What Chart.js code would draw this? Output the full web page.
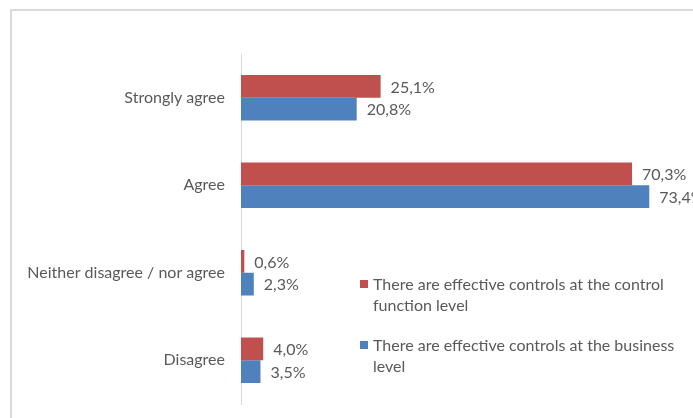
<!DOCTYPE html>
<html>
<head>
<meta charset="utf-8">
<script src="https://cdn.jsdelivr.net/npm/chart.js@4/dist/chart.umd.min.js"></script>
<style>
  html, body { margin: 0; padding: 0; background: #fff; }
  #frame {
    position: absolute; left: 10px; top: 9px; width: 700px; height: 420px;
    border-left: 2px solid #d9d9d9; border-top: 2px solid #d9d9d9;
  }
  #wrap { position: absolute; left: 0; top: 0; width: 693px; height: 418px; }
</style>
</head>
<body>
<div id="frame"></div>
<div id="wrap"><canvas id="c" width="693" height="418"></canvas></div>
<script>
// Survey answers and the share of respondents for each statement (%)
const categories = ['Strongly agree', 'Agree', 'Neither disagree / nor agree', 'Disagree'];
const controlFunction = [25.1, 70.3, 0.6, 4.0];
const businessLevel = [20.8, 73.4, 2.3, 3.5];
const seriesNames = [
  ['There are effective controls at the control', 'function level'],
  ['There are effective controls at the business', 'level']
];

const FONT = 'Lato, "Open Sans", sans-serif';
const FSIZE = 16;
const TEXT = '#595959';

function fmt(v) { return v.toFixed(1).replace('.', ',') + '%'; }

// Value labels to the right of each bar
const valueLabels = {
  id: 'valueLabels',
  afterDatasetsDraw(chart) {
    const ctx = chart.ctx;
    ctx.save();
    ctx.font = FSIZE + 'px ' + FONT;
    ctx.fillStyle = TEXT;
    ctx.textBaseline = 'middle';
    ctx.textAlign = 'left';
    chart.data.datasets.forEach((ds, i) => {
      chart.getDatasetMeta(i).data.forEach((bar, j) => {
        ctx.fillText(fmt(ds.data[j]), bar.x + 10, bar.y + 1);
      });
    });
    ctx.restore();
  }
};

// Legend box placed inside the plot area, lower right
const innerLegend = {
  id: 'innerLegend',
  afterDraw(chart) {
    const ctx = chart.ctx;
    const area = chart.chartArea;
    ctx.save();
    ctx.font = FSIZE + 'px ' + FONT;
    ctx.textBaseline = 'middle';
    ctx.textAlign = 'left';
    const x0 = area.left + 119;
    const tops = [area.top + 230, area.top + 291];
    chart.data.datasets.forEach((ds, i) => {
      const y = tops[i];
      ctx.fillStyle = ds.backgroundColor;
      ctx.fillRect(x0, y - 4, 8, 8);
      ctx.fillStyle = TEXT;
      seriesNames[i].forEach((line, k) => {
        ctx.fillText(line, x0 + 13, y + 1 + k * 21);
      });
    });
    ctx.restore();
  }
};

new Chart(document.getElementById('c'), {
  type: 'bar',
  data: {
    labels: categories,
    datasets: [
      { label: seriesNames[0].join(' '), data: controlFunction, backgroundColor: '#C0504D' },
      { label: seriesNames[1].join(' '), data: businessLevel, backgroundColor: '#4F81BD' }
    ]
  },
  options: {
    indexAxis: 'y',
    responsive: false,
    animation: false,
    layout: { padding: { top: 54, bottom: 14, left: 0, right: 7 } },
    datasets: { bar: { categoryPercentage: 0.52, barPercentage: 1.0 } },
    scales: {
      x: {
        min: 0, max: 80,
        display: false
      },
      y: {
        grid: { display: false, drawTicks: false },
        border: { display: true, color: '#d9d9d9', width: 1 },
        ticks: { color: TEXT, font: { family: FONT, size: FSIZE }, padding: 16 },
        afterFit(scale) {
          scale.width = 241;
          scale.paddingTop = 0;
          scale.paddingBottom = 0;
        }
      }
    },
    plugins: {
      legend: { display: false },
      tooltip: { enabled: false }
    }
  },
  plugins: [valueLabels, innerLegend]
});
</script>
</body>
</html>
